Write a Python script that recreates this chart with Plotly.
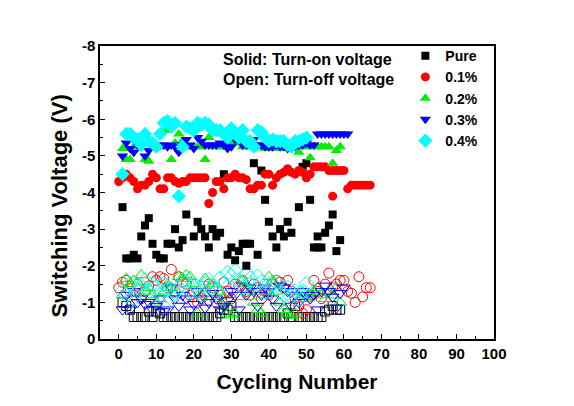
import plotly.graph_objects as go

# ---------------- data ----------------
pure_on_x = [1,2,3,4,5,6,7,8,9,10,11,12,13,14,15,16,17,18,20,21,22,23,24,25,26,27,28,29,30,31,32,33,34,34,35,36,37,38,39,40,41,42,43,44,45,46,48,49,50,51,52,53,53,54,55,56,57,58,59]
pure_on_v = [-3.6,-2.2,-2.2,-2.3,-2.2,-2.8,-3.1,-3.3,-2.6,-2.3,-2.2,-2.2,-2.6,-2.6,-3.0,-2.5,-2.7,-3.4,-2.8,-3.2,-3.0,-2.8,-2.5,-3.0,-2.8,-2.9,-4.5,-2.3,-2.5,-2.15,-2.4,-2.6,-2.6,-2.0,-2.6,-4.8,-2.3,-4.6,-3.8,-3.2,-2.8,-2.5,-3.0,-2.8,-3.2,-2.9,-3.6,-4.7,-4.8,-3.8,-2.5,-2.5,-2.8,-2.5,-2.9,-3.1,-3.4,-2.4,-2.7]

red_on_x = list(range(0, 68)) + [57]
red_on_v = [-4.3,-4.4,-4.5,-4.4,-4.3,-4.1,-4.2,-4.2,-4.3,-4.5,-4.4,-4.1,-4.1,-4.4,-4.4,-4.3,-4.25,-4.3,-4.3,-4.4,
            -4.4,-4.4,-4.4,-4.4,-3.7,-4.0,-4.3,-4.3,-4.1,-4.4,-4.4,-4.5,-4.4,-4.4,-4.35,-4.1,-4.1,-4.2,-4.2,-4.5,
            -4.5,-4.2,-4.4,-4.5,-4.55,-4.65,-4.55,-4.5,-4.6,-4.55,-4.4,-4.5,-4.7,-4.7,-4.7,-4.7,-4.6,-4.6,-4.6,-4.6,
            -4.6,-4.1,-4.2,-4.2,-4.2,-4.2,-4.2,-4.2,-3.9]

green_on_x = list(range(1, 60))
green_on_v = [-5.2,-4.9,-4.9,-5.25,-5.25,-5.4,-4.9,-4.85,-5.25,-5.25,-5.25,-5.7,-5.7,-4.9,-5.35,-5.6,-5.4,-5.25,-5.25,-5.25,
              -5.25,-5.25,-4.9,-5.5,-5.25,-5.25,-5.25,-5.25,-5.25,-5.35,-5.7,-5.35,-5.25,-5.25,-5.25,-5.25,-5.25,-5.25,-5.2,-5.2,
              -5.2,-5.2,-5.2,-5.2,-5.2,-5.35,-5.35,-5.1,-5.25,-5.25,-4.95,-5.25,-5.25,-5.25,-5.25,-5.25,-4.8,-5.15,-5.25]

blue_on_x = list(range(1, 62))
blue_on_v = [-5.0,-5.35,-5.2,-5.1,-5.3,-5.3,-5.0,-5.15,-5.3,-5.3,-5.3,-5.3,-5.25,-5.3,-5.25,-5.1,-5.3,-5.45,-5.3,-5.2,
             -5.5,-5.4,-5.3,-5.3,-5.3,-5.3,-5.35,-5.3,-5.2,-5.25,-5.45,-5.5,-5.3,-5.3,-5.45,-5.45,-5.3,-5.3,-5.25,-5.25,
             -5.25,-5.3,-5.25,-5.25,-5.2,-5.3,-5.25,-5.3,-5.3,-5.35,-5.3,-5.3,-5.6,-5.6,-5.6,-5.6,-5.6,-5.6,-5.6,-5.6,-5.6]

cyan_on_x = list(range(1, 51))
cyan_on_v = [-4.5,-5.6,-5.6,-5.5,-5.45,-5.3,-5.6,-5.4,-5.35,-5.25,-5.6,-5.9,-5.95,-5.8,-5.9,-3.9,-5.25,-5.8,-5.75,-5.7,
             -5.9,-5.85,-5.9,-5.85,-5.7,-5.7,-5.7,-5.6,-5.5,-5.75,-5.6,-5.5,-5.7,-5.4,-5.4,-5.25,-5.7,-5.65,-5.5,-5.4,
             -5.45,-5.4,-5.4,-5.4,-5.3,-5.25,-5.4,-5.4,-5.45,-5.5]

pure_off_x = list(range(1, 60))
pure_off_v = [-1.0,-0.9,-0.8,-0.6,-0.6,-0.6,-0.6,-0.75,-0.6,-0.75,-0.7,-0.6,-0.6,-0.6,-0.6,-0.6,-0.6,-0.6,-0.6,-0.6,
              -0.6,-0.6,-0.6,-0.6,-0.6,-0.6,-0.7,-0.8,-0.8,-0.9,-0.6,-0.6,-0.6,-0.6,-0.6,-0.6,-0.6,-0.6,-0.6,-0.6,
              -0.6,-0.6,-0.6,-0.6,-0.7,-0.6,-0.9,-0.6,-0.6,-0.6,-0.6,-0.6,-0.6,-0.6,-0.75,-0.8,-0.9,-0.8,-0.8]

red_off_x = list(range(0, 68))
red_off_v = [-1.4,-1.55,-1.6,-1.3,-1.2,-1.5,-1.1,-1.3,-1.45,-1.7,-1.6,-1.7,-1.65,-1.4,-1.9,-1.3,-1.7,-1.55,-1.5,-1.2,
             -1.3,-1.0,-1.1,-1.25,-1.5,-1.4,-1.0,-1.2,-1.55,-1.3,-1.1,-1.5,-1.45,-1.6,-1.3,-1.2,-1.5,-1.4,-1.1,-1.3,
             -1.2,-1.5,-1.6,-1.55,-1.4,-1.6,-1.3,-1.1,-0.9,-0.7,-0.8,-1.2,-1.6,-1.3,-1.1,-1.5,-1.8,-1.4,-1.5,-1.6,
             -1.6,-1.3,-1.25,-1.0,-1.7,-1.15,-1.4,-1.4]

green_off_x = list(range(1, 60))
green_off_v = [-1.2,-1.65,-1.5,-1.6,-1.55,-1.75,-1.3,-1.4,-1.2,-1.0,-1.1,-1.3,-1.5,-1.4,-1.2,-1.7,-1.65,-1.75,-1.7,-1.5,
               -0.7,-1.2,-1.65,-1.4,-1.5,-1.1,-1.3,-1.0,-0.7,-0.65,-0.7,-1.15,-1.6,-1.5,-1.3,-1.0,-0.8,-0.7,-1.2,-1.7,
               -1.6,-1.3,-1.0,-0.8,-0.7,-0.65,-0.7,-1.1,-1.3,-1.1,-1.2,-1.3,-1.4,-1.2,-1.1,-1.3,-1.2,-1.4,-1.0]

blue_off_x = list(range(1, 61))
blue_off_v = [-0.8,-1.2,-0.8,-1.3,-1.0,-1.1,-0.95,-1.0,-0.8,-0.9,-1.1,-0.75,-0.8,-1.4,-1.1,-0.9,-1.2,-1.1,-0.8,-0.95,
              -1.3,-1.1,-0.85,-1.0,-1.25,-1.1,-0.8,-0.9,-1.05,-1.3,-1.2,-0.8,-1.45,-1.2,-1.4,-1.3,-0.9,-1.2,-1.4,-1.3,
              -1.1,-0.9,-1.45,-1.4,-1.3,-0.9,-1.2,-1.0,-1.3,-1.2,-1.1,-1.2,-0.8,-1.3,-1.45,-1.3,-1.15,-0.85,-1.25,-1.4]

cyan_off_x = list(range(1, 51))
cyan_off_v = [-1.3,-1.2,-1.5,-1.1,-1.3,-1.45,-1.6,-1.3,-1.5,-1.4,-1.2,-1.5,-1.35,-1.1,-1.25,-1.4,-1.6,-1.55,-1.3,-1.5,
              -1.35,-1.2,-1.5,-1.6,-1.45,-1.3,-1.65,-1.5,-1.8,-1.7,-1.85,-1.6,-1.4,-1.8,-1.65,-1.5,-1.7,-1.55,-1.3,-1.5,
              -1.4,-1.55,-1.3,-1.2,-1.4,-1.15,-1.3,-1.1,-1.3,-1.5]

series_names = ["Pure", "0.1%", "0.2%", "0.3%", "0.4%"]
y_tick_vals = [0, -1, -2, -3, -4, -5, -6, -7, -8]
y_tick_text = ["0", "-1", "-2", "-3", "-4", "-5", "-6", "-7", "-8"]

colors = ["#000000", "#FF0000", "#00EE00", "#0000FF", "#00FFFF"]
symbols = ["square", "circle", "triangle-up", "triangle-down", "diamond"]
on_sizes = [8, 9, 10, 10, 11]
off_sizes = [9, 10, 11, 11, 12]

on_x = [pure_on_x, red_on_x, green_on_x, blue_on_x, cyan_on_x]
on_v = [pure_on_v, red_on_v, green_on_v, blue_on_v, cyan_on_v]
off_x = [pure_off_x, red_off_x, green_off_x, blue_off_x, cyan_off_x]
off_v = [pure_off_v, red_off_v, green_off_v, blue_off_v, cyan_off_v]

fig = go.Figure()

# open markers first (drawn underneath)
for i in range(5):
    fig.add_trace(go.Scatter(
        x=off_x[i], y=off_v[i], mode="markers", showlegend=False,
        marker=dict(symbol=symbols[i] + "-open", size=off_sizes[i], color=colors[i],
                    line=dict(width=1, color=colors[i]))))

for i in range(5):
    fig.add_trace(go.Scatter(
        x=on_x[i], y=on_v[i], mode="markers", name=series_names[i],
        marker=dict(symbol=symbols[i], size=on_sizes[i], color=colors[i], line=dict(width=0))))

font_family = "Arial, Liberation Sans, sans-serif"

fig.update_layout(
    width=574, height=406,
    margin=dict(l=100, r=80, t=46, b=67),
    paper_bgcolor="white", plot_bgcolor="white",
    font=dict(family=font_family, color="black"),
    showlegend=True,
    legend=dict(x=0.775, y=1.02, xanchor="left", yanchor="top",
                bgcolor="rgba(0,0,0,0)", borderwidth=0,
                font=dict(size=14, family=font_family, color="black", weight="bold"),
                itemsizing="trace", tracegroupgap=0),
    xaxis=dict(range=[-5, 100], tickmode="linear", tick0=0, dtick=10,
               ticks="inside", ticklen=5, tickwidth=1.2, tickcolor="black",
               minor=dict(ticks="inside", ticklen=3, dtick=5, tick0=0, tickcolor="black"),
               showline=True, linecolor="black", linewidth=1.5, mirror=True,
               showgrid=False, zeroline=False,
               tickfont=dict(size=15, family=font_family, weight="bold"),
               title=dict(text="Cycling Number", font=dict(size=21, family=font_family, weight="bold"),
                          standoff=14)),
    yaxis=dict(range=[0, -8], tickmode="array", tickvals=y_tick_vals, ticktext=y_tick_text,
               ticks="inside", ticklen=5, tickwidth=1.2, tickcolor="black",
               minor=dict(ticks="inside", ticklen=3, dtick=0.5, tick0=0, tickcolor="black"),
               showline=True, linecolor="black", linewidth=1.5, mirror=True,
               showgrid=False, zeroline=False,
               tickfont=dict(size=15, family=font_family, weight="bold")),
)

# y-axis title (placed slightly below centre, as in the original)
fig.add_annotation(xref="paper", yref="paper", x=-0.102, y=0.455, xanchor="center", yanchor="middle",
                   text="Switching Voltage (V)", textangle=-90, showarrow=False,
                   font=dict(size=22, family=font_family, weight="bold", color="black"))

fig.add_annotation(xref="paper", yref="paper", x=0.307, y=0.955, xanchor="left", yanchor="middle",
                   text="Solid: Turn-on voltage", showarrow=False,
                   font=dict(size=16, family=font_family, weight="bold", color="black"))
fig.add_annotation(xref="paper", yref="paper", x=0.307, y=0.885, xanchor="left", yanchor="middle",
                   text="Open: Turn-off voltage", showarrow=False,
                   font=dict(size=16, family=font_family, weight="bold", color="black"))

fig.write_html("out.html")
